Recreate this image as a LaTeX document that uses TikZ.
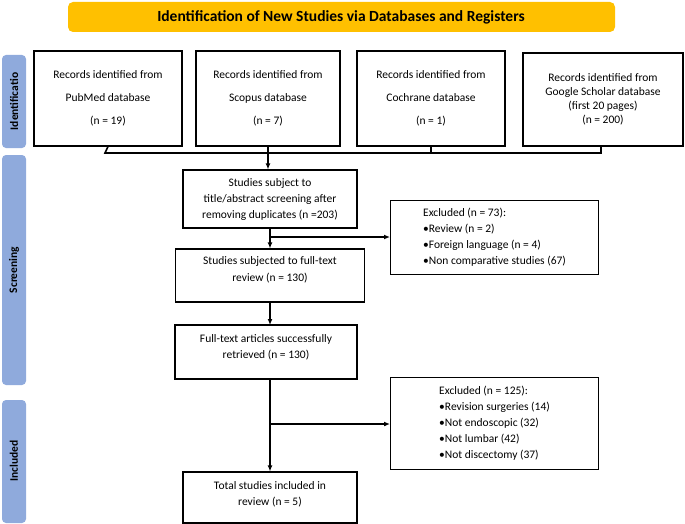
\documentclass[tikz,border=0pt]{standalone}
\usepackage{fontspec}
\setmainfont{Carlito}
\usetikzlibrary{arrows.meta}
\definecolor{side}{HTML}{8FAADC}
\definecolor{ban}{HTML}{FFC000}
\begin{document}
\begin{tikzpicture}[x=1pt,y=-1pt,
  box/.style={draw,line width=1.1pt,align=center,font=\fontsize{11.5}{18}\selectfont},
  exc/.style={draw,line width=1.1pt,align=left,anchor=north west,inner sep=4pt},
  bar/.style={fill=side,rounded corners=4pt},
  bartxt/.style={rotate=90,font=\bfseries\fontsize{11.5}{12}\selectfont},
  ln/.style={line width=1.6pt},
  ar/.style={line width=1.6pt,-{Latex[length=6pt,width=5pt]}}]
\useasboundingbox (0,0) rectangle (685,524);
% banner
\fill[ban,rounded corners=5pt] (68,2) rectangle (615,32);
\node[font=\bfseries\fontsize{15.5}{16}\selectfont] (title) at (341,17) {Identification of New Studies via Databases and Registers};
% side bars
\fill[bar] (2,55) rectangle (26,148);
\node[bartxt] (s1) at (14,101.5) {Identificatio};
\fill[bar] (2,155) rectangle (26,385);
\node[bartxt] (s2) at (14,270) {Screening};
\fill[bar] (2,400) rectangle (26,523);
\node[bartxt] (s3) at (14,461) {Included};
% top boxes
\node[box,minimum width=148pt,minimum height=95pt] (b1) at (108,98.5) {Records identified from\\[5pt]PubMed database\\[5pt](n = 19)};
\node[box,minimum width=144pt,minimum height=95pt] (b2) at (268,98.5) {Records identified from\\[5pt]Scopus database\\[5pt](n = 7)};
\node[box,minimum width=148pt,minimum height=95pt] (b3) at (431,98.5) {Records identified from\\[5pt]Cochrane database\\[5pt](n = 1)};
\node[box,minimum width=160pt,minimum height=93pt,font=\fontsize{11.5}{14}\selectfont] (b4) at (603,99.5) {Records identified from\\Google Scholar database\\(first 20 pages)\\(n = 200)};
\coordinate (j) at (268,153);
\draw[ln] (b1.south) -- (105,153) -- (601,153) -- (601,146);
\draw[ln] (b2.south) -- (268,153);
\draw[ln] (b3.south) -- (431,153);
% screening
\node[box,minimum width=174pt,minimum height=58pt,font=\fontsize{11.5}{16}\selectfont] (a) at (270,199) {Studies subject to\\title/abstract screening after\\removing duplicates (n =203)};
\draw[ar] (j) -- (j |- a.north);
\node[box,minimum width=189pt,minimum height=53pt,font=\fontsize{11.5}{17}\selectfont,text depth=12pt] (b) at (270,275.5) {Studies subjected to full-text\\review (n = 130)};
\draw[ar] (a.south) -- (b.north);
\coordinate (e1j) at (270,237);
\node[exc,minimum width=208pt,minimum height=74pt,font=\fontsize{11.5}{16}\selectfont] (e1) at (390,200) {Excluded (n = 73):\\\textbullet Review (n = 2)\\\textbullet Foreign language (n = 4)\\\textbullet Non comparative studies (67)};
\draw[ar] (e1j) -- (e1.west |- e1j);
\node[box,minimum width=182pt,minimum height=54pt,font=\fontsize{11.5}{16}\selectfont,text depth=10pt] (c) at (266,352) {Full-text articles successfully\\retrieved (n = 130)};
\draw[ar] (b.south) -- (270,325);
\node[exc,minimum width=208pt,minimum height=92pt,font=\fontsize{11.5}{16}\selectfont] (e2) at (390,377) {Excluded (n = 125):\\\textbullet Revision surgeries (14)\\\textbullet Not endoscopic (32)\\\textbullet Not lumbar (42)\\\textbullet Not discectomy (37)};
\node[box,minimum width=174pt,minimum height=51pt,font=\fontsize{11.5}{16}\selectfont,text depth=8pt] (d) at (270,497.5) {Total studies included in\\review (n = 5)};
\draw[ar] (270,379) -- (d.north);
\coordinate (e2j) at (270,424);
\draw[ar] (e2j) -- (e2.west |- e2j);
\end{tikzpicture}
\end{document}
